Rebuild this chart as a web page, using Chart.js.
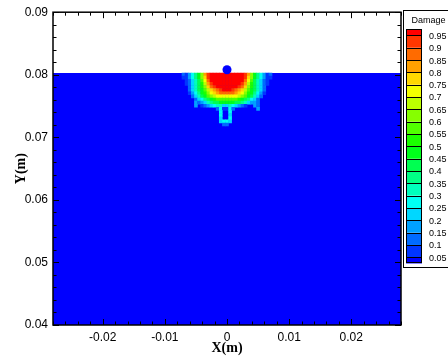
<!DOCTYPE html>
<html>
<head>
<meta charset="utf-8">
<script src="https://cdn.jsdelivr.net/npm/chart.js@4.4.1/dist/chart.umd.min.js"></script>
<style>
  html, body { margin: 0; padding: 0; background: #fff; }
  #c { display: block; }
</style>
</head>
<body>
<canvas id="c" width="448" height="360"></canvas>
<script>
// axis ticks
const xMajorTicks = [-0.02, -0.01, 0, 0.01, 0.02]
const xTickLabels = ['-0.02', '-0.01', '0', '0.01', '0.02']
const yMajorTicks = [0.04, 0.05, 0.06, 0.07, 0.08, 0.09]
const yTickLabels = ['0.04', '0.05', '0.06', '0.07', '0.08', '0.09']

// contour legend levels
const levelValues = [0.05, 0.1, 0.15, 0.2, 0.25, 0.3, 0.35, 0.4, 0.45, 0.5, 0.55, 0.6, 0.65, 0.7, 0.75, 0.8, 0.85, 0.9, 0.95]
const levelLabels = ['0.05', '0.1', '0.15', '0.2', '0.25', '0.3', '0.35', '0.4', '0.45', '0.5', '0.55', '0.6', '0.65', '0.7', '0.75', '0.8', '0.85', '0.9', '0.95']

// target body (undamaged part) and projectile
const fieldX = [-0.028, 0.028]
const surfaceY = [0.0803, 0.0803]
const ballX = [0]
const ballY = [0.0808]

// damage mesh: cell centres
const gridX = [-0.0075, -0.007, -0.0065, -0.006, -0.0055, -0.005, -0.0045, -0.004, -0.0035, -0.003, -0.0025,
  -0.002, -0.0015, -0.001, -0.0005, 0, 0.0005, 0.001, 0.0015, 0.002, 0.0025, 0.003, 0.0035, 0.004, 0.0045,
  0.005, 0.0055, 0.006, 0.0065, 0.007, 0.0075]
const gridY = [0.08005, 0.07955, 0.07905, 0.07855, 0.07805, 0.07755, 0.07705, 0.07655, 0.07605,
  0.07555, 0.07505, 0.07455, 0.07405, 0.07355, 0.07305, 0.07255, 0.07205]

// damage band per cell ('.' = below 0.05, '1'..'9','a'..'j' = band 1..19)
const damageRows = [
  ".213579cgijjjjjjjjjjjigc975312.",
  ".113579cfijjjjjjjjjjjifc975311.",
  "..12468behjjjjjjjjjjjheb86421..",
  "..12468adgijjjjjjjjjigda86421..",
  "...2468acfhijjjjjjjihfca8642...",
  "...24689bdfghijjjihgfdb98642...",
  "...13579acefghhhhhgfeca97531...",
  "....24689bcdeeeeeeedcb98642....",
  ".....245789abbbbbbba987542.....",
  ".....323467889999988764332.....",
  ".....3.123456644654321..32.....",
  "............251152.......3.....",
  ".............5..5..............",
  ".............5..4..............",
  ".............4..5..............",
  ".............4554..............",
  "..............22..............."
]

const bandCodes = '0123456789abcdefghij'
const bandColors = ['#0000ff', '#0036ff', '#006bff', '#00a1ff', '#00d7ff', '#00fff3', '#00ffbc', '#00ff86',
  '#00ff51', '#00ff1b', '#1bff00', '#51ff00', '#86ff00', '#bcff00', '#f3ff00', '#ffd700', '#ffa100',
  '#ff6b00', '#ff3600', '#ff0000']
const cellSize = 0.0005

const cellPoints = []
const cellColors = []
damageRows.forEach((row, j) => {
  for (let i = 0; i < row.length; i++) {
    const band = bandCodes.indexOf(row[i])
    if (band < 0) continue
    cellPoints.push({ x: gridX[i], y: gridY[j] })
    cellColors.push(bandColors[band])
  }
})

function cellRadius(chart) {
  const xs = chart.scales.x, ys = chart.scales.y
  const w = Math.abs(xs.getPixelForValue(cellSize) - xs.getPixelForValue(0))
  const h = Math.abs(ys.getPixelForValue(0) - ys.getPixelForValue(cellSize))
  return (Math.max(w, h) + 0.5) / Math.SQRT2
}

// inward major/minor ticks on all four sides + frame
const frameTicks = {
  id: 'frameTicks',
  afterDraw(chart) {
    const { ctx, chartArea: a, scales: { x, y } } = chart
    ctx.save()
    ctx.strokeStyle = '#000'
    ctx.lineWidth = 1
    ctx.beginPath()
    for (let v = -0.028; v <= 0.0281; v += 0.002) {
      const major = xMajorTicks.some(t => Math.abs(t - v) < 1e-6)
      const len = major ? 6 : 3.5
      const px = Math.round(x.getPixelForValue(v)) + 0.5
      ctx.moveTo(px, a.bottom); ctx.lineTo(px, a.bottom - len)
      ctx.moveTo(px, a.top); ctx.lineTo(px, a.top + len)
    }
    for (let v = 0.04; v <= 0.0901; v += 0.002) {
      const major = yMajorTicks.some(t => Math.abs(t - v) < 1e-6)
      const len = major ? 6 : 3.5
      const py = Math.round(y.getPixelForValue(v)) + 0.5
      ctx.moveTo(a.left, py); ctx.lineTo(a.left + len, py)
      ctx.moveTo(a.right, py); ctx.lineTo(a.right - len, py)
    }
    ctx.stroke()
    ctx.lineWidth = 1.5
    ctx.strokeRect(a.left, a.top, a.right - a.left, a.bottom - a.top)
    ctx.restore()
  }
}

// contour legend (colour bar)
const contourLegend = {
  id: 'contourLegend',
  afterDraw(chart) {
    const ctx = chart.ctx
    const step = 12.33
    const y0 = 257.3 // pixel of first level (0.05)
    const left = 406, width = 16
    ctx.save()
    ctx.fillStyle = '#fff'
    ctx.fillRect(403.5, 10.5, 60, 257)
    ctx.strokeStyle = '#000'
    ctx.lineWidth = 1
    ctx.strokeRect(403.5, 10.5, 60, 257)
    ctx.fillStyle = '#000'
    ctx.font = '9px "Liberation Sans", Arial, sans-serif'
    ctx.textBaseline = 'middle'
    ctx.textAlign = 'left'
    ctx.fillText('Damage', 411.5, 20.5)
    for (let k = 0; k < bandColors.length; k++) {
      const bottom = k === 0 ? y0 + step / 2 : y0 - (k - 1) * step
      const top = k === bandColors.length - 1 ? y0 - (k - 1) * step - step / 2 : y0 - k * step
      ctx.fillStyle = bandColors[k]
      ctx.fillRect(left, top, width, bottom - top)
    }
    ctx.beginPath()
    levelValues.forEach((v, i) => {
      const py = Math.round(y0 - i * step) + 0.5
      ctx.moveTo(left, py); ctx.lineTo(left + width, py)
    })
    ctx.stroke()
    ctx.strokeRect(left + 0.5, Math.round(y0 - 18 * step - step / 2) + 0.5, width - 1, Math.round(18 * step + step) - 1)
    ctx.fillStyle = '#000'
    levelLabels.forEach((t, i) => {
      ctx.fillText(t, 429, y0 - i * step + 1)
    })
    ctx.restore()
  }
}

const tickFont = { family: '"Liberation Sans", Arial, sans-serif', size: 12 }
const titleFont = { family: '"Liberation Serif", "Times New Roman", serif', size: 14, weight: 'bold' }

new Chart(document.getElementById('c'), {
  type: 'scatter',
  data: {
    datasets: [
      {
        label: 'Projectile',
        data: ballX.map((x, i) => ({ x, y: ballY[i] })),
        pointStyle: 'circle',
        pointRadius: 4.5,
        pointBackgroundColor: '#0000ff',
        pointBorderWidth: 0
      },
      {
        label: 'Damage',
        data: cellPoints,
        pointStyle: 'rect',
        pointRadius: ctx => cellRadius(ctx.chart),
        pointBackgroundColor: cellColors,
        pointBorderWidth: 0
      },
      {
        type: 'line',
        label: 'Target',
        data: fieldX.map((x, i) => ({ x, y: surfaceY[i] })),
        fill: 'start',
        backgroundColor: '#0000ff',
        borderColor: '#0000ff',
        borderWidth: 0,
        pointRadius: 0
      }
    ]
  },
  options: {
    responsive: false,
    animation: false,
    devicePixelRatio: 1,
    events: [],
    layout: { padding: { left: 0, top: 11, right: 47, bottom: 0 } },
    plugins: {
      legend: { display: false },
      tooltip: { enabled: false }
    },
    scales: {
      x: {
        type: 'linear',
        position: 'bottom',
        min: -0.028,
        max: 0.028,
        grid: { display: false, drawTicks: false },
        border: { display: false },
        afterBuildTicks: s => { s.ticks = xMajorTicks.map(v => ({ value: v })) },
        afterFit: s => { s.height = 35 },
        ticks: {
          autoSkip: false,
          maxRotation: 0,
          padding: 5,
          color: '#000',
          font: tickFont,
          callback: (v, i) => xTickLabels[i]
        },
        title: { display: true, text: 'X(m)', color: '#000', font: titleFont, padding: { top: 0, bottom: 3 } }
      },
      y: {
        type: 'linear',
        position: 'left',
        min: 0.04,
        max: 0.09,
        grid: { display: false, drawTicks: false },
        border: { display: false },
        afterBuildTicks: s => { s.ticks = yMajorTicks.map(v => ({ value: v })) },
        afterFit: s => { s.width = 53 },
        ticks: {
          autoSkip: false,
          padding: 5,
          color: '#000',
          font: tickFont,
          callback: (v, i) => yTickLabels[i]
        },
        title: { display: true, text: 'Y(m)', color: '#000', font: titleFont, padding: { top: 13, bottom: 0 } }
      }
    }
  },
  plugins: [frameTicks, contourLegend]
})
</script>
</body>
</html>
